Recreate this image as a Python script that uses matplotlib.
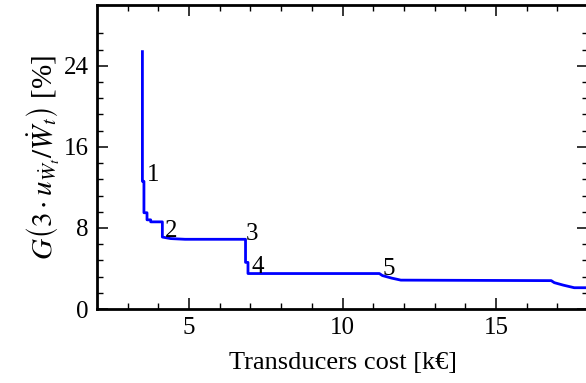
import numpy as np
import matplotlib
matplotlib.use("Agg")
import matplotlib.pyplot as plt

# Pareto front: sensor cost vs uncertainty
cost = [3.48, 3.48, 3.53, 3.53, 3.63, 3.63, 3.75, 3.75, 4.13, 4.13, 4.4, 4.87,
        6.84, 6.84, 6.92, 6.92, 11.2, 11.3, 11.6, 11.9, 16.8, 16.9, 17.2, 17.55, 18.0]
gain = [25.4, 12.6, 12.6, 9.5, 9.5, 8.8, 8.8, 8.6, 8.6, 7.1, 6.95, 6.88,
        6.88, 4.6, 4.6, 3.5, 3.5, 3.3, 3.05, 2.85, 2.8, 2.6, 2.35, 2.1, 2.1]

# numbered configurations
lab_txt = ["1", "2", "3", "4", "5"]
lab_x = [3.62, 4.2, 6.84, 7.04, 11.3]
lab_y = [12.6, 7.15, 6.8, 3.55, 3.35]

plt.rcParams['font.family'] = ['Liberation Serif', 'DejaVu Serif']
plt.rcParams['mathtext.fontset'] = 'stix'

fig = plt.figure(figsize=(5.86, 3.83), dpi=100)
ax = fig.add_axes([0.1655, 0.1932, 0.838, 0.7937])

ax.plot(cost, gain, color='#0000ff', lw=2)
for t, x, y in zip(lab_txt, lab_x, lab_y):
    ax.text(x, y, t, fontsize=18, ha='left', va='baseline')

ax.set_xlim(2, 18)
ax.set_ylim(0, 30)
ax.set_xticks([5, 10, 15])
ax.set_xticks(np.arange(3, 18, 1), minor=True)
ax.set_yticks([0, 8, 16, 24])
ax.set_yticks(np.arange(0, 27.3, 1.6), minor=True)

ax.tick_params(which='both', direction='in', top=True, right=True, labelsize=18, pad=6)
ax.tick_params(which='major', length=8, width=1.1)
ax.tick_params(which='minor', length=4.5, width=1.0)
for s in ax.spines.values():
    s.set_linewidth(2)

ax.set_xlabel('Transducers cost [k€]', fontsize=19, labelpad=9)
ax.set_ylabel(r'$G\left(3\cdot u_{\dot{W}_t}/\dot{W}_t\right)$ [%]', fontsize=21, labelpad=2)

fig.savefig('out.png', dpi=100)
